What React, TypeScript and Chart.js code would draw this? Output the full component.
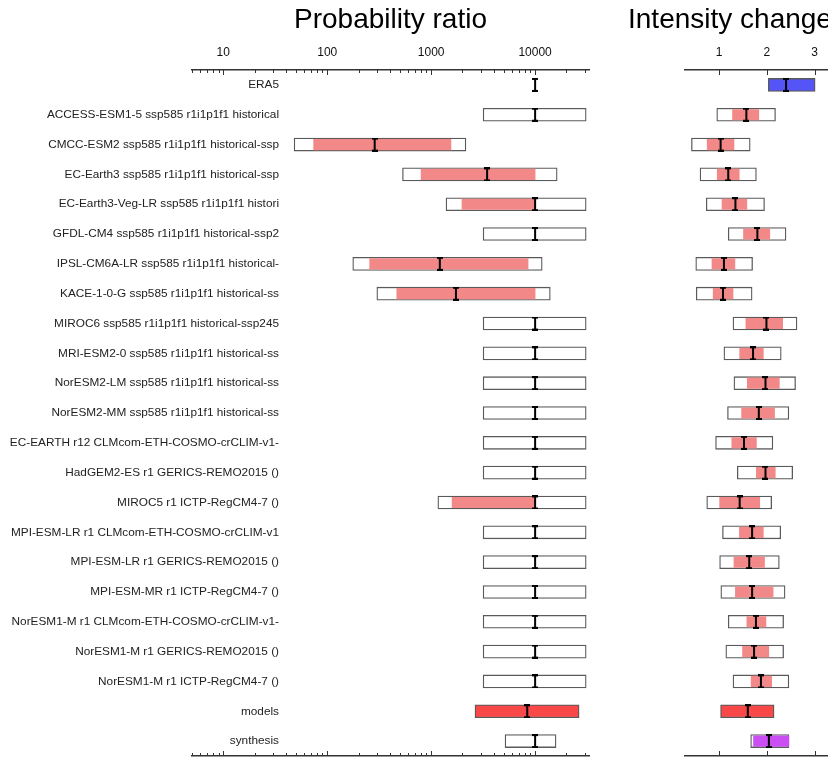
import React, { useEffect, useRef } from 'react';
import { Chart, registerables } from 'chart.js';

Chart.register(...registerables);

// ---------- data ----------
const rowLabels = [
  'ERA5',
  'ACCESS-ESM1-5 ssp585 r1i1p1f1 historical',
  'CMCC-ESM2 ssp585 r1i1p1f1 historical-ssp',
  'EC-Earth3 ssp585 r1i1p1f1 historical-ssp',
  'EC-Earth3-Veg-LR ssp585 r1i1p1f1 histori',
  'GFDL-CM4 ssp585 r1i1p1f1 historical-ssp2',
  'IPSL-CM6A-LR ssp585 r1i1p1f1 historical-',
  'KACE-1-0-G ssp585 r1i1p1f1 historical-ss',
  'MIROC6 ssp585 r1i1p1f1 historical-ssp245',
  'MRI-ESM2-0 ssp585 r1i1p1f1 historical-ss',
  'NorESM2-LM ssp585 r1i1p1f1 historical-ss',
  'NorESM2-MM ssp585 r1i1p1f1 historical-ss',
  'EC-EARTH r12 CLMcom-ETH-COSMO-crCLIM-v1-',
  'HadGEM2-ES r1 GERICS-REMO2015 ()',
  'MIROC5 r1 ICTP-RegCM4-7 ()',
  'MPI-ESM-LR r1 CLMcom-ETH-COSMO-crCLIM-v1',
  'MPI-ESM-LR r1 GERICS-REMO2015 ()',
  'MPI-ESM-MR r1 ICTP-RegCM4-7 ()',
  'NorESM1-M r1 CLMcom-ETH-COSMO-crCLIM-v1-',
  'NorESM1-M r1 GERICS-REMO2015 ()',
  'NorESM1-M r1 ICTP-RegCM4-7 ()',
  'models',
  'synthesis',
];

// Probability ratio (log axis)
const prBoxLo = [null, 3160, 48, 530, 1390, 3160, 176, 300, 3160, 3160, 3160, 3160, 3160, 3160, 1160, 3160, 3160, 3160, 3160, 3160, 3160, 2640, 5140];
const prBoxHi = [null, 31000, 2160, 16300, 31000, 31000, 11700, 14000, 31000, 31000, 31000, 31000, 31000, 31000, 31000, 31000, 31000, 31000, 31000, 31000, 31000, 26500, 15900];
const prInnerLo = [null, null, 74, 800, 1980, null, 256, 467, null, null, null, null, null, null, 1590, null, null, null, null, null, null, null, null];
const prInnerHi = [null, null, 1550, 10000, 10000, null, 8560, 10000, null, null, null, null, null, null, 10000, null, null, null, null, null, null, null, null];
const prMid = [10000, 10000, 286, 3450, 10000, 10000, 1210, 1730, 10000, 10000, 10000, 10000, 10000, 10000, 10000, 10000, 10000, 10000, 10000, 10000, 10000, 8400, 10000];
const prTicks = [10, 100, 1000, 10000];

// Intensity change (linear axis)
const icBoxLo = [2.03, 0.95, 0.42, 0.6, 0.73, 1.19, 0.51, 0.52, 1.29, 1.1, 1.31, 1.175, 0.925, 1.38, 0.74, 1.07, 1.01, 1.035, 1.19, 1.14, 1.29, 1.03, 1.66];
const icBoxHi = [3.01, 2.18, 1.65, 1.78, 1.95, 2.4, 1.7, 1.69, 2.63, 2.3, 2.6, 2.46, 2.125, 2.54, 2.1, 2.29, 2.26, 2.38, 2.35, 2.35, 2.46, 2.15, 2.46];
const icInnerLo = [null, 1.28, 0.75, 0.96, 1.06, 1.51, 0.85, 0.875, 1.56, 1.43, 1.59, 1.47, 1.265, 1.78, 1.01, 1.425, 1.31, 1.34, 1.58, 1.49, 1.67, null, 1.72];
const icInnerHi = [null, 1.83, 1.31, 1.42, 1.58, 2.06, 1.33, 1.29, 2.33, 1.925, 2.26, 2.16, 1.78, 2.175, 1.85, 1.925, 1.95, 2.13, 1.98, 2.04, 2.1, null, 2.46];
const icMid = [2.4, 1.57, 1.03, 1.19, 1.34, 1.8, 1.1, 1.08, 1.99, 1.71, 1.97, 1.83, 1.52, 1.97, 1.43, 1.69, 1.63, 1.69, 1.77, 1.73, 1.875, 1.6, 2.04];
const icTicks = [1, 2, 3];

// ---------- styles ----------
const FONT = '"Liberation Sans", Arial, Helvetica, sans-serif';
const LABEL_SIZE = 11.8;
const PINK = 'rgb(243,136,136)';
const RED = 'rgb(248,72,72)';
const BLUE = 'rgb(84,84,247)';
const PURPLE = 'rgb(202,78,244)';
const BOX_BORDER = '#5a5a5a';
const LABEL_RIGHT = 279; // right edge of the row labels, page px
const AXIS_LEFT = 192;

const pairs = (lo: (number | null)[], hi: (number | null)[]) =>
  lo.map((v, i) => (v == null || hi[i] == null ? null : [v as number, hi[i] as number]));

const boxFill = (label: string) => (label === 'models' ? RED : label === 'ERA5' ? BLUE : '#ffffff');
const innerFill = (label: string) => (label === 'synthesis' ? PURPLE : PINK);

function makeMarker() {
  const m = document.createElement('canvas');
  m.width = 6;
  m.height = 14;
  const g = m.getContext('2d')!;
  g.fillStyle = '#000';
  g.fillRect(2, 0, 2, 14);
  g.fillRect(0, 0, 6, 2);
  g.fillRect(0, 12, 6, 2);
  return m;
}

function inwardTicks(specs: { id: string; major: number[]; minor: number[] }[]) {
  return {
    id: 'inwardTicks',
    afterDraw(chart: any) {
      const ctx = chart.ctx;
      ctx.save();
      ctx.strokeStyle = '#333';
      ctx.lineWidth = 1;
      for (const s of specs) {
        const sc = chart.scales[s.id];
        const top = sc.options.position === 'top';
        const y0 = top ? chart.chartArea.top : chart.chartArea.bottom;
        const dir = top ? 1 : -1;
        const draw = (v: number, len: number) => {
          const x = Math.round(sc.getPixelForValue(v)) + 0.5;
          ctx.beginPath();
          ctx.moveTo(x, y0);
          ctx.lineTo(x, y0 + dir * len);
          ctx.stroke();
        };
        s.major.forEach((v) => draw(v, 5));
        s.minor.forEach((v) => draw(v, 3));
      }
      ctx.restore();
    },
  };
}

function panelTitle(text: string, pos: 'center' | number) {
  return {
    id: 'panelTitle',
    afterDraw(chart: any) {
      const ctx = chart.ctx;
      ctx.save();
      ctx.font = '28px ' + FONT;
      ctx.fillStyle = '#000';
      ctx.textBaseline = 'alphabetic';
      if (pos === 'center') {
        ctx.textAlign = 'center';
        ctx.fillText(text, (chart.chartArea.left + chart.chartArea.right) / 2, 28);
      } else {
        ctx.textAlign = 'left';
        ctx.fillText(text, pos, 28);
      }
      ctx.restore();
    },
  };
}

function datasets(box: any[], inner: any[], mid: number[], boxColors: string[], innerColors: string[], marker: HTMLCanvasElement) {
  return [
    {
      type: 'line' as const,
      data: mid,
      indexAxis: 'y' as const,
      showLine: false,
      pointStyle: marker,
      pointRadius: 7,
      pointHoverRadius: 7,
      order: 0,
    },
    {
      type: 'bar' as const,
      data: inner,
      backgroundColor: innerColors,
      borderWidth: 0,
      barThickness: 10.5,
      grouped: false,
      order: 1,
    },
    {
      type: 'bar' as const,
      data: box,
      backgroundColor: boxColors,
      borderColor: BOX_BORDER,
      borderWidth: 1.3,
      borderSkipped: false,
      barThickness: 13,
      grouped: false,
      order: 2,
    },
  ];
}

export default function App() {
  const leftRef = useRef<HTMLCanvasElement>(null);
  const rightRef = useRef<HTMLCanvasElement>(null);

  useEffect(() => {
    Chart.defaults.font.family = FONT;
    const marker = makeMarker();

    // widest row label, so mirrored right-aligned labels end at LABEL_RIGHT
    const mctx = document.createElement('canvas').getContext('2d')!;
    mctx.font = 'normal ' + LABEL_SIZE + 'px ' + FONT;
    const widest = Math.max(...rowLabels.map((l) => mctx.measureText(l).width));
    const labelPad = LABEL_RIGHT - AXIS_LEFT - widest;

    const prMinor: number[] = [];
    for (let d = 1; d <= 10000; d *= 10) {
      for (let k = 2; k <= 9; k++) {
        const v = k * d;
        if (v >= 5 && v <= 33000) prMinor.push(v);
      }
    }

    const left = new Chart(leftRef.current!, {
      type: 'bar',
      data: {
        labels: rowLabels,
        datasets: datasets(
          pairs(prBoxLo, prBoxHi),
          pairs(prInnerLo, prInnerHi),
          prMid,
          rowLabels.map(boxFill),
          rowLabels.map(innerFill),
          marker
        ) as any,
      },
      options: {
        indexAxis: 'y',
        responsive: false,
        animation: false,
        layout: { autoPadding: false, padding: { top: 36, bottom: 1, left: 0, right: 11 } },
        plugins: { legend: { display: false }, tooltip: { enabled: false }, title: { display: false } },
        scales: {
          x: {
            type: 'logarithmic',
            position: 'top',
            min: 5,
            max: 33000,
            grid: { display: false, drawTicks: false },
            border: { display: true, color: '#333', width: 1.5 },
            ticks: { padding: 10, color: '#111', font: { size: 12 }, callback: (v: any) => String(v) },
            afterBuildTicks: (s: any) => {
              s.ticks = prTicks.map((v) => ({ value: v }));
            },
            afterFit: (s: any) => {
              s.height = 34;
            },
          },
          xb: {
            type: 'logarithmic',
            position: 'bottom',
            min: 5,
            max: 33000,
            grid: { display: false, drawTicks: false },
            border: { display: true, color: '#333', width: 1.5 },
            ticks: { display: false },
            afterFit: (s: any) => {
              s.height = 0;
            },
          },
          y: {
            type: 'category',
            position: 'left',
            grid: { display: false, drawTicks: false },
            border: { display: false },
            ticks: {
              mirror: true,
              crossAlign: 'far',
              padding: labelPad,
              autoSkip: false,
              color: '#222',
              font: { size: LABEL_SIZE },
            },
            afterFit: (s: any) => {
              s.width = AXIS_LEFT;
            },
          },
        } as any,
      },
      plugins: [
        inwardTicks([
          { id: 'x', major: prTicks, minor: prMinor },
          { id: 'xb', major: prTicks, minor: prMinor },
        ]),
        panelTitle('Probability ratio', 'center'),
      ],
    });

    const right = new Chart(rightRef.current!, {
      type: 'bar',
      data: {
        labels: rowLabels,
        datasets: datasets(
          pairs(icBoxLo, icBoxHi),
          pairs(icInnerLo, icInnerHi),
          icMid,
          rowLabels.map(boxFill),
          rowLabels.map(innerFill),
          marker
        ) as any,
      },
      options: {
        indexAxis: 'y',
        responsive: false,
        animation: false,
        layout: { autoPadding: false, padding: { top: 36, bottom: 1, left: 85, right: 0 } },
        plugins: { legend: { display: false }, tooltip: { enabled: false }, title: { display: false } },
        scales: {
          x: {
            type: 'linear',
            position: 'top',
            min: 0.285,
            max: 3.265,
            grid: { display: false, drawTicks: false },
            border: { display: true, color: '#333', width: 1.5 },
            ticks: { padding: 10, color: '#111', font: { size: 12 }, callback: (v: any) => String(v) },
            afterBuildTicks: (s: any) => {
              s.ticks = icTicks.map((v) => ({ value: v }));
            },
            afterFit: (s: any) => {
              s.height = 34;
            },
          },
          xb: {
            type: 'linear',
            position: 'bottom',
            min: 0.285,
            max: 3.265,
            grid: { display: false, drawTicks: false },
            border: { display: true, color: '#333', width: 1.5 },
            ticks: { display: false },
            afterFit: (s: any) => {
              s.height = 0;
            },
          },
          y: {
            type: 'category',
            display: false,
          },
        } as any,
      },
      plugins: [
        inwardTicks([
          { id: 'x', major: icTicks, minor: [] },
          { id: 'xb', major: icTicks, minor: [] },
        ]),
        panelTitle('Intensity change', 28),
      ],
    });

    return () => {
      left.destroy();
      right.destroy();
    };
  }, []);

  return (
    <div
      style={{
        position: 'fixed',
        left: 0,
        top: 0,
        width: 828,
        height: 757,
        overflow: 'hidden',
        background: '#fff',
      }}
    >
      <canvas ref={leftRef} width={600} height={757} style={{ position: 'absolute', left: 0, top: 0 }} />
      <canvas ref={rightRef} width={228} height={757} style={{ position: 'absolute', left: 600, top: 0 }} />
    </div>
  );
}
